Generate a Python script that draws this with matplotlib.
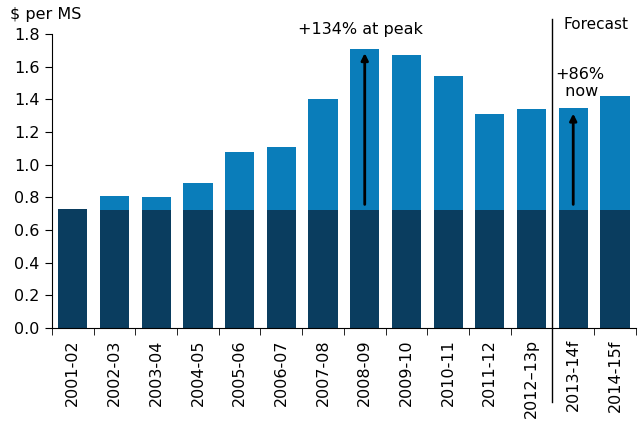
import matplotlib
matplotlib.use('Agg')
import matplotlib.pyplot as plt
import numpy as np

# data
years = ['2001-02', '2002-03', '2003-04', '2004-05', '2005-06', '2006-07', '2007-08',
         '2008-09', '2009-10', '2010-11', '2011-12', '2012\u201313p', '2013-14f', '2014-15f']
base = [0.73, 0.72, 0.72, 0.72, 0.72, 0.72, 0.72, 0.72, 0.72, 0.72, 0.72, 0.72, 0.72, 0.72]
total = [0.73, 0.81, 0.80, 0.89, 1.08, 1.11, 1.40, 1.71, 1.67, 1.54, 1.31, 1.34, 1.35, 1.42]
extra = [t - b for t, b in zip(total, base)]

dark = '#0A3D5F'
light = '#0A7DBA'

plt.rcParams['font.family'] = ['DejaVu Sans']
fig = plt.figure(figsize=(6.38, 4.25), dpi=100)
ax = fig.add_axes([0.0815, 0.228, 0.915, 0.692])

x = np.arange(len(years))
ax.bar(x, base, width=0.7, color=dark, zorder=2)
ax.bar(x, extra, bottom=base, width=0.7, color=light, zorder=2)

ax.set_xlim(-0.5, len(years) - 0.5)
ax.set_ylim(0, 1.8)
ax.set_yticks(np.arange(0, 1.81, 0.2))
ax.set_yticklabels([f'{v:.1f}' for v in np.arange(0, 1.81, 0.2)], fontsize=11.5)

# category labels centred, tick marks on the boundaries
ax.set_xticks(x)
ax.set_xticklabels(years, rotation=90, fontsize=11.5)
ax.tick_params(axis='x', length=0, pad=8)
ax.set_xticks(np.arange(-0.5, len(years), 1.0), minor=True)
ax.tick_params(axis='x', which='minor', length=5, direction='out')
ax.tick_params(axis='y', length=5, direction='out', pad=4)

for s in ['top', 'right']:
    ax.spines[s].set_visible(False)

# forecast separator
ax.plot([11.5, 11.5], [-0.45, 1.89], color='black', lw=1, clip_on=False, zorder=3)
ax.text(12.55, 1.86, 'Forecast', fontsize=11, ha='center', va='center')

# growth arrows
ax.annotate('', xy=(7, 1.70), xytext=(7, 0.74),
            arrowprops=dict(arrowstyle='-|>', color='black', lw=2, mutation_scale=10), zorder=4)
ax.annotate('', xy=(12, 1.33), xytext=(12, 0.74),
            arrowprops=dict(arrowstyle='-|>', color='black', lw=2, mutation_scale=10), zorder=4)
ax.text(6.9, 1.83, '+134% at peak', fontsize=11.5, ha='center', va='center')
ax.text(12.15, 1.50, '+86%\n now', fontsize=11.5, ha='center', va='center', linespacing=1.1)

fig.text(0.016, 0.965, '$ per MS', fontsize=11.5, ha='left', va='center')

fig.savefig('out.png', dpi=100)
